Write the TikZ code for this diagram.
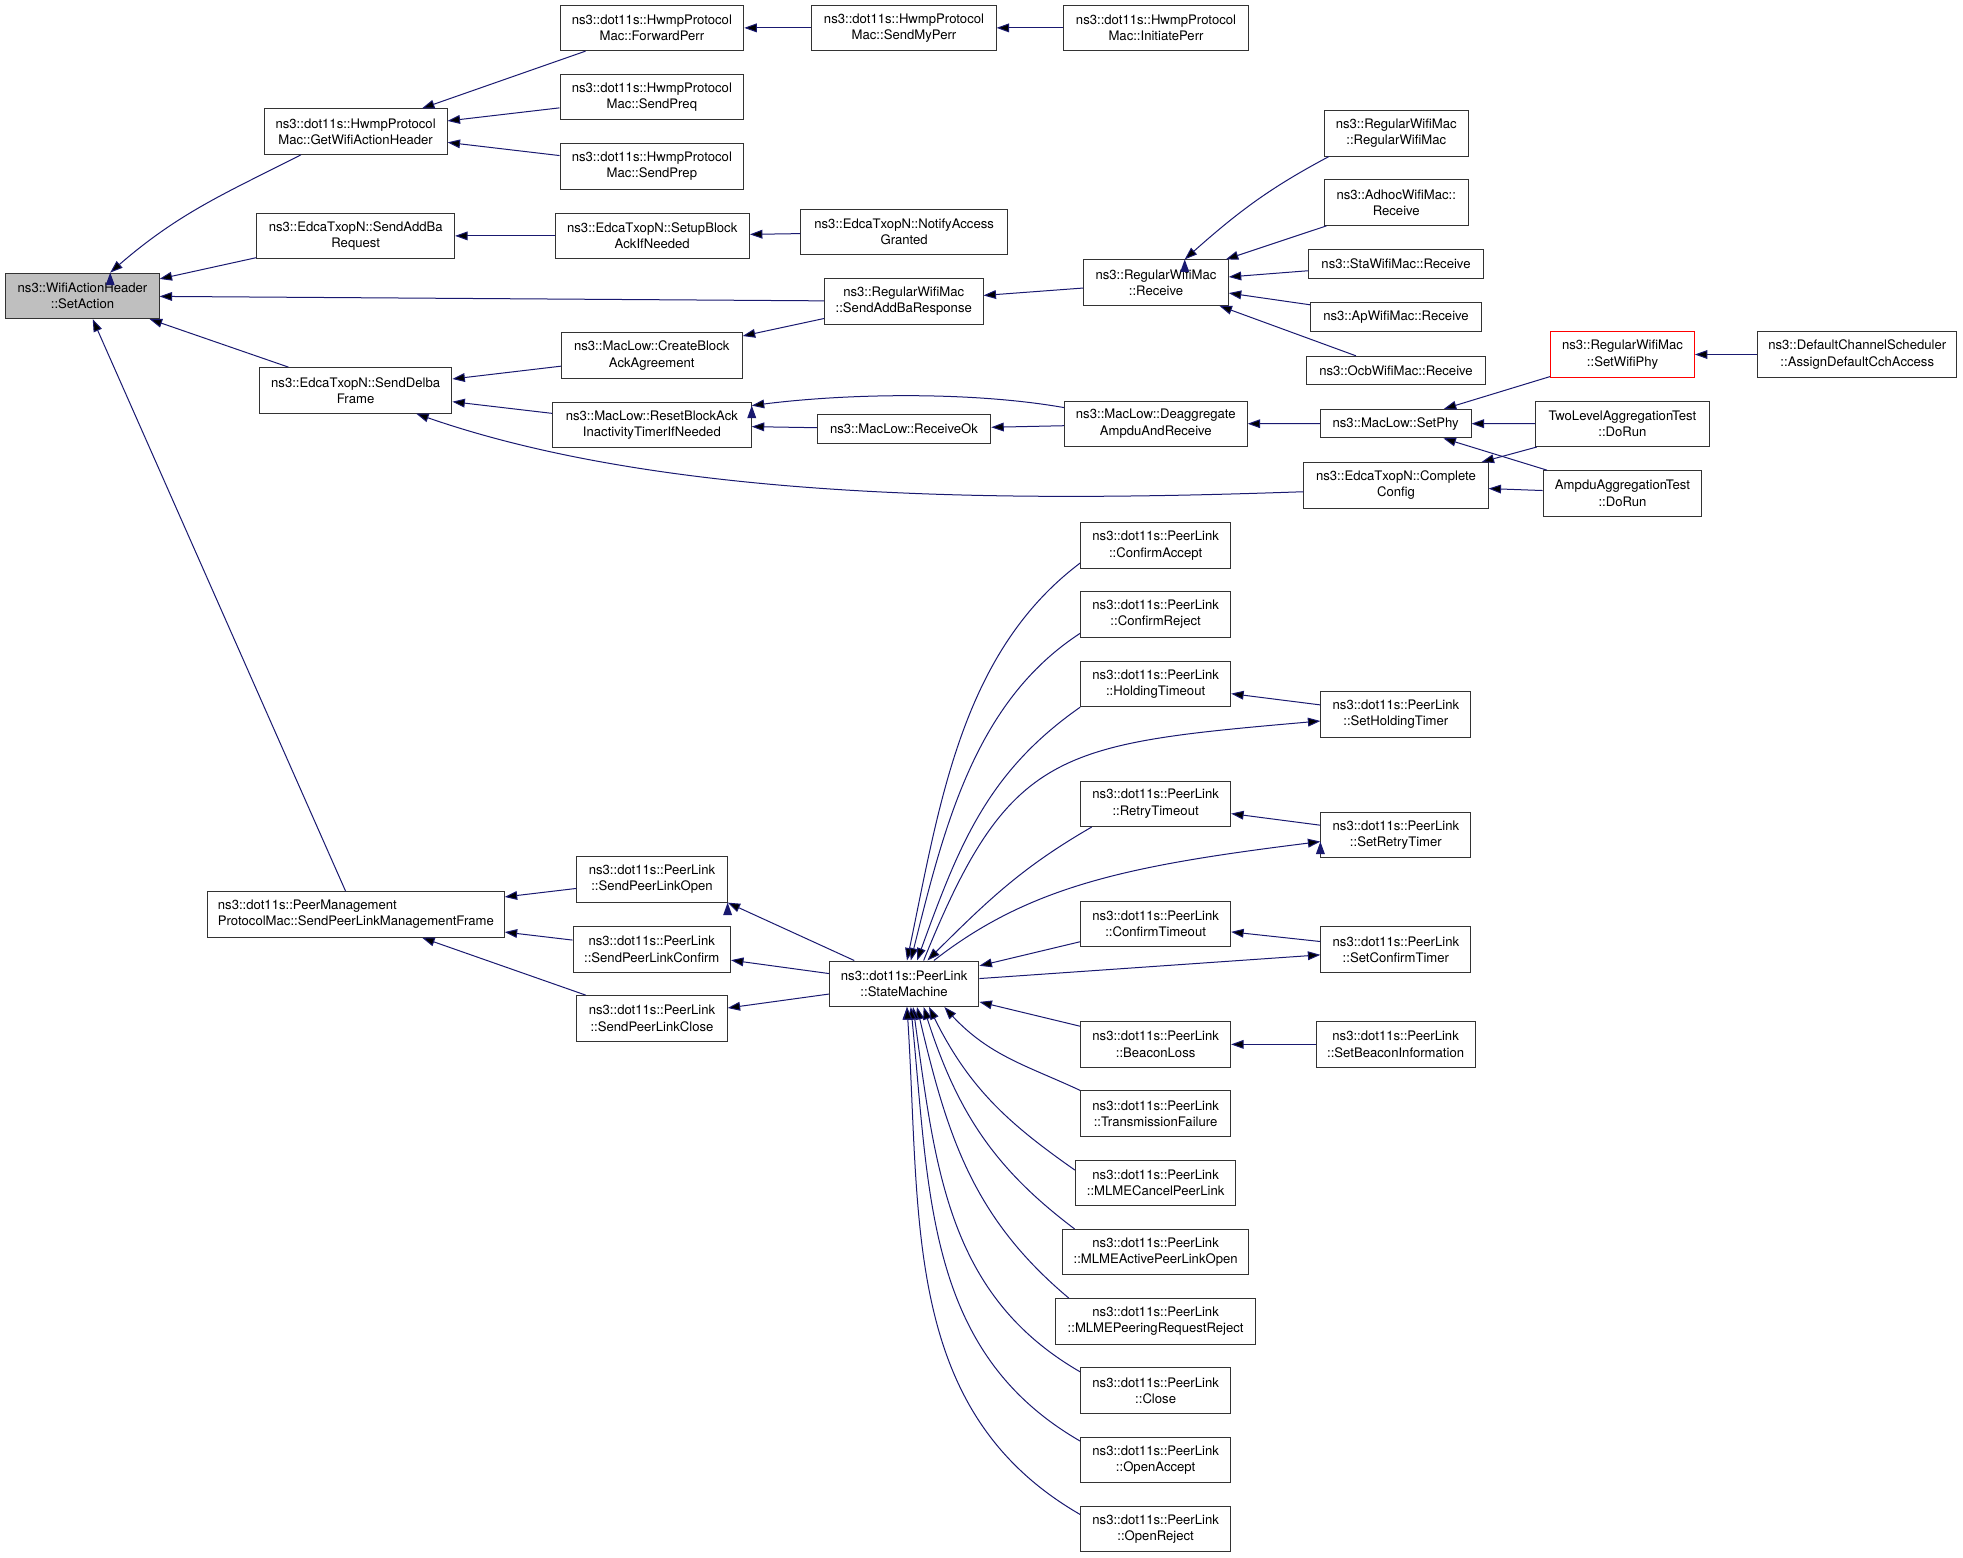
\documentclass[tikz,border=0pt]{standalone}
\usepackage{fontspec}
\setmainfont{TeX Gyre Heros}
\usetikzlibrary{positioning,arrows.meta,bending}

\definecolor{edgeblue}{RGB}{25,25,112}
\tikzset{
  fn/.style={draw=black!80, fill=white, line width=0.8pt, align=center,
    inner sep=0pt, minimum height=36.4pt, font=\fontsize{10.5}{13}\selectfont},
  fn1/.style={fn, minimum height=22.7pt},
  cur/.style={fn, fill=black!25},
  bad/.style={fn, draw=red},
  call/.style={<-, draw=edgeblue, line width=0.8pt},
}

\begin{document}
\begin{tikzpicture}[x=1pt, y=1pt, >={Triangle[length=10pt,width=7pt]}, on grid, node distance=55.4pt]
    \useasboundingbox[fill=white] (0,0) rectangle (1570.4,-1245.6);

    \node[cur, minimum width=122.5pt] (setaction) at (66,-236.7) {ns3::WifiActionHeader\\::SetAction};

    % hwmp callers
    \node[fn, minimum width=146.3pt] (getwifi) at (284.5,-105.3) {ns3::dot11s::HwmpProtocol\\Mac::GetWifiActionHeader};
    \node[fn, minimum width=147pt] (fwdperr) at (521.5,-22.3) {ns3::dot11s::HwmpProtocol\\Mac::ForwardPerr};
    \node[fn, minimum width=147pt, below=of fwdperr] (sendpreq) {ns3::dot11s::HwmpProtocol\\Mac::SendPreq};
    \node[fn, minimum width=147pt, below=of sendpreq] (sendprep) {ns3::dot11s::HwmpProtocol\\Mac::SendPrep};
    \node[fn, minimum width=147.3pt, right=201.7pt of fwdperr] (sendmyperr) {ns3::dot11s::HwmpProtocol\\Mac::SendMyPerr};
    \node[fn, minimum width=147.5pt, right=201.6pt of sendmyperr] (initperr) {ns3::dot11s::HwmpProtocol\\Mac::InitiatePerr};

    % block ack setup
    \node[fn, minimum width=158.2pt] (addbareq) at (284.6,-188.7) {ns3::EdcaTxopN::SendAddBa\\Request};
    \node[fn, minimum width=155.5pt] (setupba) at (521.8,-188.7) {ns3::EdcaTxopN::SetupBlock\\AckIfNeeded};
    \node[fn, minimum width=165.4pt] (notifyacc) at (723.3,-185.6) {ns3::EdcaTxopN::NotifyAccess\\Granted};
    \node[fn, minimum width=126.8pt] (addbaresp) at (723,-241.1) {ns3::RegularWifiMac\\::SendAddBaResponse};
    \node[fn, minimum width=115.6pt] (rwmrecv) at (924.8,-226.1) {ns3::RegularWifiMac\\::Receive};
    \node[fn, minimum width=115pt] (rwmctor) at (1117,-106.7) {ns3::RegularWifiMac\\::RegularWifiMac};
    \node[fn, minimum width=115pt] (adhocrecv) at (1117,-162.1) {ns3::AdhocWifiMac::\\Receive};
    \node[fn1, minimum width=139.6pt] (starecv) at (1116.8,-211.1) {ns3::StaWifiMac::Receive};
    \node[fn1, minimum width=136.5pt] (aprecv) at (1116.8,-253.7) {ns3::ApWifiMac::Receive};
    \node[fn1, minimum width=143.5pt] (ocbrecv) at (1116.8,-296.4) {ns3::OcbWifiMac::Receive};

    % delba and mac low
    \node[fn, minimum width=154pt] (senddelba) at (284.5,-312.3) {ns3::EdcaTxopN::SendDelba\\Frame};
    \node[fn, minimum width=144.7pt] (createba) at (521.4,-284.4) {ns3::MacLow::CreateBlock\\AckAgreement};
    \node[fn, minimum width=159pt] (resetba) at (521.5,-340) {ns3::MacLow::ResetBlockAck\\InactivityTimerIfNeeded};
    \node[fn1, minimum width=138.8pt] (recvok) at (723.2,-343.3) {ns3::MacLow::ReceiveOk};
    \node[fn, minimum width=146.3pt] (deagg) at (924.6,-339) {ns3::MacLow::Deaggregate\\AmpduAndReceive};
    \node[fn1, minimum width=120.6pt] (setphy) at (1116.5,-338.9) {ns3::MacLow::SetPhy};
    \node[bad, minimum width=115pt] (setwifiphy) at (1298,-283.6) {ns3::RegularWifiMac\\::SetWifiPhy};
    \node[fn, minimum width=159pt] (assigncch) at (1485.8,-283.6) {ns3::DefaultChannelScheduler\\::AssignDefaultCchAccess};
    \node[fn, minimum width=139pt] (twolevel) at (1297.9,-339) {TwoLevelAggregationTest\\::DoRun};
    \node[fn, minimum width=127pt] (ampdutest) at (1298,-394.7) {AmpduAggregationTest\\::DoRun};
    \node[fn, minimum width=147.3pt] (complcfg) at (1116.8,-388.2) {ns3::EdcaTxopN::Complete\\Config};

    % peer link management
    \node[fn, minimum width=237.3pt, align=left] (splmf) at (284.7,-731.6) {ns3::dot11s::PeerManagement\\ProtocolMac::SendPeerLinkManagementFrame};
    \node[fn, minimum width=120.2pt] (splopen) at (521.6,-703.6) {ns3::dot11s::PeerLink\\::SendPeerLinkOpen};
    \node[fn, minimum width=126pt] (splconfirm) at (521.4,-759.5) {ns3::dot11s::PeerLink\\::SendPeerLinkConfirm};
    \node[fn, minimum width=120.2pt] (splclose) at (521.6,-814.7) {ns3::dot11s::PeerLink\\::SendPeerLinkClose};
    \node[fn, minimum width=119.7pt] (statem) at (723.3,-787) {ns3::dot11s::PeerLink\\::StateMachine};

    % state machine callers
    \node[fn, minimum width=120pt] (cfmaccept) at (924.5,-436.5) {ns3::dot11s::PeerLink\\::ConfirmAccept};
    \node[fn, minimum width=120pt, below=55.1pt of cfmaccept] (cfmreject) {ns3::dot11s::PeerLink\\::ConfirmReject};
    \node[fn, minimum width=120pt, below=55.7pt of cfmreject] (holdto) {ns3::dot11s::PeerLink\\::HoldingTimeout};
    \node[fn, minimum width=120pt] (retryto) at (924.5,-643) {ns3::dot11s::PeerLink\\::RetryTimeout};
    \node[fn, minimum width=120pt] (cfmto) at (924.5,-739) {ns3::dot11s::PeerLink\\::ConfirmTimeout};
    \node[fn, minimum width=120pt] (beaconloss) at (924.5,-835.5) {ns3::dot11s::PeerLink\\::BeaconLoss};
    \node[fn, minimum width=120pt, below=of beaconloss] (txfail) {ns3::dot11s::PeerLink\\::TransmissionFailure};
    \node[fn, minimum width=128.3pt, below=of txfail] (mlmecancel) {ns3::dot11s::PeerLink\\::MLMECancelPeerLink};
    \node[fn, minimum width=149pt, below=of mlmecancel] (mlmeactive) {ns3::dot11s::PeerLink\\::MLMEActivePeerLinkOpen};
    \node[fn, minimum width=159.8pt, below=of mlmeactive] (mlmepeering) {ns3::dot11s::PeerLink\\::MLMEPeeringRequestReject};
    \node[fn, minimum width=120pt, below=of mlmepeering] (plclose) {ns3::dot11s::PeerLink\\::Close};
    \node[fn, minimum width=120pt, below=of plclose] (openaccept) {ns3::dot11s::PeerLink\\::OpenAccept};
    \node[fn, minimum width=120pt, below=of openaccept] (openreject) {ns3::dot11s::PeerLink\\::OpenReject};
    \node[fn, minimum width=120pt] (setholding) at (1116.7,-571.5) {ns3::dot11s::PeerLink\\::SetHoldingTimer};
    \node[fn, minimum width=120pt] (setretry) at (1116.7,-668) {ns3::dot11s::PeerLink\\::SetRetryTimer};
    \node[fn, minimum width=120pt] (setconfirm) at (1116.7,-759.7) {ns3::dot11s::PeerLink\\::SetConfirmTimer};
    \node[fn, minimum width=127pt] (setbeacon) at (1116.5,-835.5) {ns3::dot11s::PeerLink\\::SetBeaconInformation};

    % callers of SetAction
    \path[call]
      (setaction.40) edge[out=42, in=207] (getwifi.-157.5)
      (setaction) edge (addbareq) edge (addbaresp) edge (senddelba) edge (splmf);

    % hwmp
    \path[call]
      (getwifi) edge (fwdperr) edge (sendpreq) edge (sendprep)
      (fwdperr) edge (sendmyperr)
      (sendmyperr) edge (initperr);

    % add ba
    \path[call]
      (addbareq) edge (setupba)
      (setupba) edge (notifyacc)
      (addbaresp) edge (rwmrecv)
      (createba) edge (addbaresp)
      (rwmrecv.39) edge[out=42, in=208] (rwmctor.-161.7)
      (rwmrecv) edge (adhocrecv) edge (starecv) edge (aprecv) edge (ocbrecv);

    % delba
    \path[call]
      (senddelba) edge (createba) edge (resetba)
      (senddelba.-21.4) edge[out=-20, in=182, looseness=0.77] (complcfg.-176.1)
      (resetba) edge (recvok)
      (resetba.11.5) edge[out=8, in=170, looseness=0.76] (deagg.170.7)
      (recvok) edge (deagg)
      (deagg) edge (setphy)
      (setphy) edge (setwifiphy) edge (twolevel) edge (ampdutest)
      (setwifiphy) edge (assigncch)
      (complcfg) edge (twolevel) edge (ampdutest);

    % peer link frames
    \path[call]
      (splmf) edge (splopen) edge (splconfirm) edge (splclose)
      (splopen.-17.7) edge (statem.155.5)
      (splconfirm) edge (statem)
      (splclose) edge (statem);

    % into the state machine, from above
    \path[call]
      (statem.83.7) edge[out=78, in=217, looseness=0.9] (cfmaccept.-167.2)
      (statem.74.6) edge[out=76, in=213, looseness=0.9] (cfmreject.-166)
      (statem.61.2) edge[out=70, in=215] (holdto.-163.3)
      (setholding.-175.2) edge[out=185, in=68, out distance=210pt, in distance=185pt] (statem.50.5)
      (statem.45.3) edge[out=45, in=210] (retryto.-160.5)
      (setretry.-175.2) edge[out=187, in=38, out distance=150pt, in distance=100pt] (statem.38.4)
      (statem) edge (cfmto)
      (setconfirm) edge (statem)
      (holdto) edge (setholding)
      (retryto) edge (setretry)
      (cfmto) edge (setconfirm)
      (beaconloss) edge (setbeacon);

    % into the state machine, from below
    \path[call]
      (statem) edge (beaconloss)
      (statem.-30.4) edge[out=-50, in=155] (txfail.north west)
      (statem.-43.8) edge[out=-65, in=145] (mlmecancel.171.1)
      (statem.-50.5) edge[out=-73, in=143] (mlmeactive.164.5)
      (statem.-61.2) edge[out=-77, in=140] (mlmepeering.165)
      (statem.-69) edge[out=-82, in=150] (plclose.166.9)
      (statem.-74.6) edge[out=-84, in=150] (openaccept.166.9)
      (statem.-83.7) edge[out=-86, in=150] (openreject.169.6);
  \end{tikzpicture}
\end{document}
